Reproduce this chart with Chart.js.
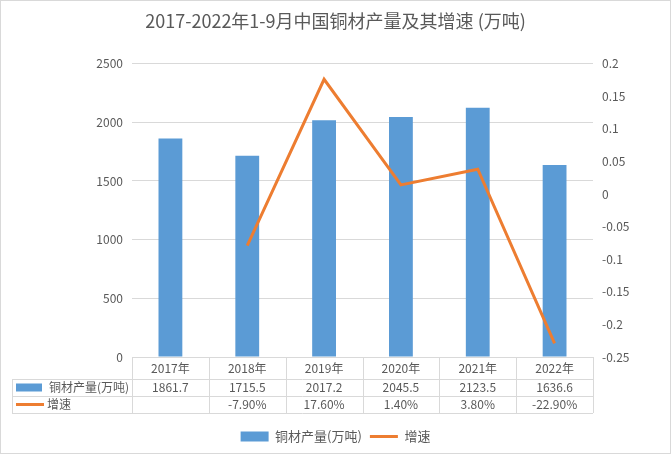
<!DOCTYPE html>
<html>
<head>
<meta charset="utf-8">
<script src="https://cdn.jsdelivr.net/npm/chart.js@4/dist/chart.umd.min.js"></script>
<style>
  html, body { margin: 0; padding: 0; background: #fff; }
  #wrap { width: 671px; height: 454px; box-sizing: border-box; border: 1px solid #d9d9d9; }
  canvas { display: block; }
</style>
</head>
<body>
<div id="wrap"><canvas id="chart" width="669" height="452"></canvas></div>
<script>
// 数据
const years = ['2017年', '2018年', '2019年', '2020年', '2021年', '2022年'];
const output = [1861.7, 1715.5, 2017.2, 2045.5, 2123.5, 1636.6];
const growth = [null, -0.079, 0.176, 0.014, 0.038, -0.229];
const growthText = ['', '-7.90%', '17.60%', '1.40%', '3.80%', '-22.90%'];

const FONT = '"Noto Sans CJK SC", "Microsoft YaHei", sans-serif';
const GREY = '#595959';
const LINE = '#d9d9d9';
const BLUE = '#5b9bd5';
const ORANGE = '#ed7d31';

Chart.defaults.font.family = FONT;
Chart.defaults.color = GREY;

// 数据表 (画在 x 轴区域)
const dataTable = {
    id: 'dataTable',
    afterDraw(chart) {
        const ctx = chart.ctx;
        const area = chart.chartArea;
        const x = chart.scales.x;
        const half = (x.getPixelForValue(1) - x.getPixelForValue(0)) / 2;
        const rows = [area.bottom, area.bottom + 22, area.bottom + 39, area.bottom + 56];
        const leftX = 11;

        ctx.save();
        ctx.strokeStyle = LINE;
        ctx.lineWidth = 1;
        ctx.beginPath();
        // 横线
        ctx.moveTo(area.left, rows[0] + 0.5); ctx.lineTo(area.right, rows[0] + 0.5);
        for (let r = 1; r < rows.length; r++) {
            ctx.moveTo(leftX, rows[r] + 0.5); ctx.lineTo(area.right, rows[r] + 0.5);
        }
        // 竖线
        ctx.moveTo(leftX + 0.5, rows[1]); ctx.lineTo(leftX + 0.5, rows[3]);
        for (let i = 0; i <= years.length; i++) {
            const px = Math.round(x.getPixelForValue(i) - half) + 0.5;
            ctx.moveTo(px, rows[0]); ctx.lineTo(px, rows[3]);
        }
        ctx.stroke();

        ctx.fillStyle = GREY;
        ctx.font = '12px ' + FONT;
        ctx.textAlign = 'center';
        ctx.textBaseline = 'middle';
        years.forEach((y, i) => {
            const cx = x.getPixelForValue(i);
            ctx.fillText(y, cx, (rows[0] + rows[1]) / 2);
            ctx.fillText(String(output[i]), cx, (rows[1] + rows[2]) / 2);
            ctx.fillText(growthText[i], cx, (rows[2] + rows[3]) / 2);
        });

        // 左侧图例列
        const m1 = (rows[1] + rows[2]) / 2, m2 = (rows[2] + rows[3]) / 2;
        ctx.fillStyle = BLUE;
        ctx.fillRect(leftX + 4, m1 - 4, 26, 8);
        ctx.strokeStyle = ORANGE;
        ctx.lineWidth = 3;
        ctx.beginPath();
        ctx.moveTo(leftX + 4, m2); ctx.lineTo(leftX + 32, m2);
        ctx.stroke();
        ctx.fillStyle = GREY;
        ctx.textAlign = 'left';
        ctx.fillText('铜材产量(万吨)', leftX + 37, m1);
        ctx.fillText('增速', leftX + 35, m2);
        ctx.restore();
    }
};

new Chart(document.getElementById('chart'), {
    type: 'bar',
    data: {
        labels: years,
        datasets: [
            {
                type: 'bar',
                label: '铜材产量(万吨)',
                data: output,
                backgroundColor: BLUE,
                borderWidth: 0,
                categoryPercentage: 1,
                barPercentage: 0.31,
                yAxisID: 'y',
                pointStyle: 'rect',
                order: 1
            },
            {
                type: 'line',
                label: '增速',
                data: growth,
                borderColor: ORANGE,
                backgroundColor: ORANGE,
                borderWidth: 3,
                pointRadius: 0,
                pointStyle: 'line',
                tension: 0,
                spanGaps: false,
                yAxisID: 'y1',
                order: 0
            }
        ]
    },
    options: {
        responsive: false,
        animation: false,
        layout: { padding: { left: 10, right: 10, bottom: 0 } },
        plugins: {
            title: {
                display: true,
                text: '2017-2022年1-9月中国铜材产量及其增速 (万吨)',
                color: GREY,
                font: { size: 18, weight: 'normal' },
                padding: { top: 9, bottom: 32 }
            },
            legend: {
                position: 'bottom',
                labels: {
                    usePointStyle: true,
                    pointStyleWidth: 28,
                    boxHeight: 10,
                    color: GREY,
                    font: { size: 13 },
                    padding: 8,
                    sort: (a, b) => a.datasetIndex - b.datasetIndex
                }
            },
            tooltip: { enabled: false }
        },
        scales: {
            x: {
                grid: { display: false },
                border: { display: false },
                ticks: { display: false },
                afterFit(axis) { axis.height = 65; }
            },
            y: {
                position: 'left',
                min: 0,
                max: 2500,
                ticks: {
                    stepSize: 500,
                    padding: 9,
                    color: GREY,
                    font: { size: 12 },
                    callback: (v) => String(v)
                },
                grid: { color: LINE, drawTicks: false },
                border: { display: false },
                afterFit(axis) { axis.width = 121; }
            },
            y1: {
                position: 'right',
                min: -0.25,
                max: 0.2,
                ticks: {
                    stepSize: 0.05,
                    padding: 9,
                    color: GREY,
                    font: { size: 12 },
                    callback: (v) => String(Number(v.toFixed(2)))
                },
                grid: { display: false, drawTicks: false },
                border: { display: false },
                afterFit(axis) { axis.width = 67; }
            }
        }
    },
    plugins: [dataTable]
});
</script>
</body>
</html>
